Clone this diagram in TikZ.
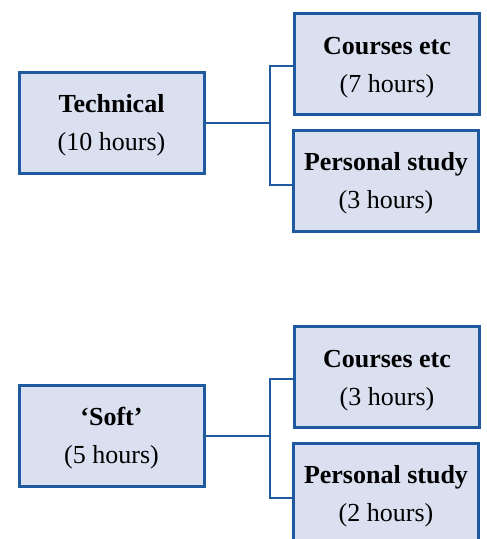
\documentclass[tikz,border=0pt]{standalone}
\usepackage{fontspec}
\setmainfont{Liberation Serif}
\usepackage{tikz}

\definecolor{boxblue}{RGB}{31,90,160}
\definecolor{boxfill}{RGB}{218,224,240}

\begin{document}
\begin{tikzpicture}[x=1pt, y=-1pt,
    box/.style={draw=boxblue, fill=boxfill, line width=3pt, minimum width=185pt,
      minimum height=101pt, inner sep=0pt, align=center, text height=62pt,
      font=\fontsize{26}{38}\selectfont},
    link/.style={draw=boxblue, line width=2pt}]
  \useasboundingbox (0,0) rectangle (487,539);

  \foreach \dy/\topic/\total/\hcourse/\hstudy/\grp in
      {0/Technical/10/7/3/a, 313/‘Soft’/5/3/2/b} {
    \node[box] (main\grp) at (111.5, 122.5+\dy) {\textbf{\topic}\\(\total{} hours)};
    \node[box] (course\grp) at (387, 64+\dy) {\textbf{Courses etc}\\(\hcourse{} hours)};
    \node[box] (study\grp) at (386, 180.5+\dy) {\textbf{Personal study}\\(\hstudy{} hours)};
    \coordinate (join\grp) at (270, 122.5+\dy);

    \draw[link] (main\grp.east) -- (join\grp);
    \draw[link] ([yshift=-2pt]course\grp.west) -| (join\grp)
      |- ([yshift=-4.5pt]study\grp.west);
  }
\end{tikzpicture}
\end{document}
